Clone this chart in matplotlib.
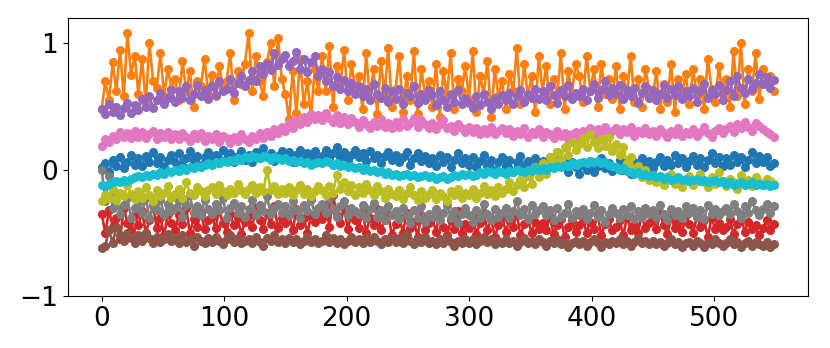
import numpy as np
import matplotlib
matplotlib.use("Agg")
import matplotlib.pyplot as plt

step = 3
x = list(range(0, 550, step))

# values in hundredths, one row per 30 x-units
blue = [2, 5, -2, 8, 3, 10, 1, 6, 12, 4,
        9, 3, 11, 6, 14, 5, 10, 2, 8, 12,
        6, 13, 4, 9, 15, 7, 11, 3, 10, 14,
        8, 12, 5, 16, 9, 13, 6, 11, 15, 8,
        12, 6, 14, 9, 17, 10, 13, 7, 11, 15,
        9, 14, 6, 12, 16, 8, 13, 10, 15, 7,
        11, 16, 9, 13, 18, 10, 14, 8, 12, 16,
        10, 13, 7, 15, 9, 12, 5, 11, 14, 8,
        12, 6, 10, 14, 4, 9, 13, 7, 11, 5,
        9, 3, 12, 6, 10, 2, 8, 13, 5, 9,
        4, 10, 2, 7, 12, 3, 8, -1, 6, 10,
        3, 8, -2, 6, 11, 2, 7, 0, 9, 4,
        7, 1, 10, 4, 14, 3, 8, -2, 6, 2,
        -3, 4, 0, 7, -2, 3, 9, 1, 5, -1,
        2, 8, 0, 5, -3, 6, 2, 9, 3, 7,
        1, 6, 10, 3, 8, 4, 12, 5, 9, 2,
        7, 11, 4, 9, 2, 8, 13, 5, 10, 3,
        9, 4, 12, 6, 10, 2, 8, 14, 5, 11,
        6, 10, 3, 5]

orange = [48, 70, 55, 85, 62, 95, 58, 108, 75, 90,
          60, 88, 52, 100, 70, 65, 92, 58, 80, 64,
          72, 55, 86, 62, 78, 50, 70, 66, 88, 60,
          75, 58, 82, 65, 70, 92, 55, 78, 68, 84,
          108, 62, 90, 70, 58, 85, 100, 66, 104, 72,
          60, 40, 78, 45, 88, 52, 70, 42, 80, 62,
          90, 62, 98, 50, 82, 68, 95, 55, 84, 64,
          74, 48, 92, 56, 80, 44, 86, 60, 96, 50,
          64, 90, 46, 74, 55, 94, 44, 80, 60, 70,
          50, 84, 42, 78, 58, 92, 48, 72, 62, 82,
          56, 94, 46, 74, 60, 86, 42, 80, 58, 70,
          48, 76, 62, 96, 52, 84, 58, 74, 46, 90,
          62, 82, 52, 72, 58, 92, 48, 78, 60, 84,
          74, 54, 90, 62, 80, 50, 84, 60, 72, 56,
          82, 48, 74, 60, 90, 54, 72, 50, 80, 64,
          58, 78, 48, 68, 54, 84, 46, 72, 60, 76,
          52, 80, 58, 72, 48, 88, 64, 54, 82, 60,
          72, 50, 94, 58, 100, 52, 80, 62, 92, 56,
          80, 68, 74, 62]

red = [-35, -50, -32, -45, -38, -55, -30, -42, -48, -36,
       -44, -33, -50, -40, -28, -46, -38, -52, -35, -42,
       -48, -36, -43, -30, -50, -39, -45, -34, -47, -40,
       -37, -46, -32, -42, -49, -35, -44, -38, -51, -41,
       -36, -45, -30, -40, -47, -34, -43, -29, -46, -38,
       -42, -35, -48, -31, -44, -38, -50, -36, -41, -33,
       -39, -28, -45, -20, -36, -42, -30, -47, -34, -40,
       -46, -33, -50, -38, -44, -31, -48, -40, -35, -52,
       -43, -37, -50, -34, -46, -41, -53, -36, -48, -42,
       -38, -49, -35, -45, -52, -40, -47, -33, -50, -43,
       -46, -36, -51, -42, -34, -48, -39, -53, -44, -37,
       -49, -40, -45, -35, -52, -43, -38, -50, -41, -47,
       -42, -48, -37, -51, -44, -39, -53, -45, -40, -49,
       -44, -38, -50, -41, -47, -35, -52, -43, -39, -48,
       -45, -40, -52, -37, -48, -43, -50, -36, -46, -42,
       -39, -47, -34, -44, -51, -38, -46, -41, -49, -36,
       -43, -50, -37, -45, -40, -53, -38, -47, -42, -48,
       -45, -39, -51, -43, -36, -49, -41, -47, -44, -52,
       -46, -40, -48, -43]

purple = [48, 44, 52, 46, 50, 43, 49, 53, 45, 51,
          47, 56, 50, 58, 49, 55, 61, 52, 57, 63,
          54, 62, 57, 66, 55, 60, 67, 58, 63, 56,
          66, 59, 70, 62, 64, 72, 61, 69, 74, 66,
          71, 78, 70, 82, 76, 84, 79, 92, 83, 88,
          91, 82, 86, 93, 80, 88, 77, 85, 90, 74,
          80, 70, 77, 66, 73, 64, 71, 62, 69, 60,
          66, 58, 64, 55, 68, 60, 57, 65, 54, 62,
          56, 64, 52, 61, 58, 66, 53, 60, 55, 63,
          59, 51, 62, 55, 50, 60, 54, 63, 52, 57,
          53, 49, 58, 51, 60, 54, 48, 57, 52, 59,
          55, 61, 52, 58, 63, 54, 60, 57, 64, 56,
          62, 55, 66, 59, 53, 63, 58, 67, 56, 61,
          58, 64, 55, 62, 68, 57, 63, 70, 59, 65,
          60, 67, 56, 63, 58, 65, 53, 61, 66, 57,
          63, 55, 60, 67, 57, 64, 59, 66, 56, 62,
          58, 65, 54, 62, 68, 57, 63, 60, 67, 55,
          63, 70, 58, 74, 65, 61, 72, 64, 69, 76,
          68, 73, 65, 71]

brown = [-62, -60, -48, -58, -45, -52, -56, -50, -54, -58,
         -52, -56, -50, -54, -58, -53, -57, -55, -51, -56,
         -54, -58, -52, -57, -55, -60, -53, -56, -58, -54,
         -57, -53, -56, -59, -55, -52, -57, -54, -58, -56,
         -55, -58, -53, -57, -60, -54, -56, -52, -57, -55,
         -58, -54, -57, -55, -59, -56, -53, -57, -55, -58,
         -56, -52, -57, -54, -58, -55, -59, -56, -53, -57,
         -55, -58, -54, -57, -53, -56, -59, -55, -57, -54,
         -57, -54, -58, -52, -56, -59, -55, -57, -53, -58,
         -56, -59, -55, -58, -54, -57, -60, -56, -58, -55,
         -58, -55, -59, -56, -53, -57, -55, -59, -56, -58,
         -55, -58, -56, -60, -57, -54, -58, -56, -59, -55,
         -57, -60, -56, -58, -55, -59, -57, -61, -58, -56,
         -59, -56, -60, -57, -55, -58, -61, -57, -59, -56,
         -58, -55, -59, -56, -60, -57, -54, -58, -56, -59,
         -56, -59, -57, -60, -58, -55, -59, -57, -61, -58,
         -57, -60, -56, -58, -61, -57, -59, -55, -58, -60,
         -58, -55, -59, -57, -61, -58, -56, -60, -57, -59,
         -60, -57, -61, -59]

pink = [19, 24, 22, 27, 24, 30, 26, 29, 25, 31,
        26, 30, 25, 28, 31, 24, 29, 26, 30, 24,
        28, 24, 29, 26, 23, 28, 25, 29, 23, 27,
        24, 28, 22, 27, 25, 21, 26, 23, 28, 24,
        22, 27, 24, 29, 25, 30, 27, 32, 29, 34,
        31, 37, 33, 39, 36, 42, 38, 44, 40, 43,
        39, 45, 41, 38, 43, 37, 42, 36, 41, 38,
        34, 39, 36, 33, 38, 35, 40, 34, 37, 33,
        38, 34, 40, 35, 37, 41, 34, 39, 36, 33,
        37, 32, 36, 39, 33, 35, 31, 36, 33, 30,
        34, 30, 33, 28, 32, 29, 34, 28, 31, 33,
        29, 32, 27, 31, 28, 33, 26, 30, 28, 32,
        26, 30, 28, 25, 31, 27, 29, 24, 28, 30,
        26, 31, 28, 33, 27, 32, 30, 34, 29, 31,
        33, 28, 32, 30, 34, 27, 31, 29, 33, 28,
        31, 27, 32, 29, 26, 31, 28, 33, 27, 30,
        28, 32, 27, 30, 34, 29, 26, 31, 33, 29,
        32, 35, 30, 36, 33, 38, 34, 31, 37, 35,
        32, 30, 28, 26]

gray = [0, -25, -5, -30, -20, -35, -28, -22, -38, -30,
        -26, -34, -22, -38, -29, -32, -24, -36, -27, -33,
        -30, -25, -37, -28, -20, -34, -29, -36, -24, -31,
        -35, -27, -32, -22, -38, -30, -26, -34, -29, -37,
        -31, -24, -36, -28, -33, -21, -35, -30, -27, -34,
        -29, -36, -25, -32, -38, -28, -33, -24, -35, -30,
        -27, -34, -22, -31, -37, -29, -25, -36, -30, -33,
        -35, -28, -38, -31, -26, -37, -32, -40, -29, -36,
        -33, -39, -30, -36, -42, -32, -38, -29, -41, -35,
        -37, -31, -40, -34, -28, -38, -33, -42, -35, -30,
        -36, -41, -32, -38, -27, -35, -40, -31, -37, -34,
        -30, -38, -33, -25, -36, -31, -39, -28, -35, -32,
        -29, -36, -32, -40, -30, -37, -34, -27, -38, -33,
        -36, -31, -39, -34, -28, -37, -32, -41, -35, -30,
        -34, -38, -31, -36, -29, -39, -33, -37, -30, -35,
        -32, -37, -28, -35, -40, -31, -36, -33, -38, -29,
        -34, -30, -37, -32, -39, -28, -35, -31, -36, -33,
        -30, -35, -27, -33, -38, -29, -34, -25, -32, -36,
        -31, -27, -34, -29]

olive = [-25, -20, -22, -15, -24, -18, -21, -12, -19, -23,
         -17, -22, -14, -20, -25, -16, -21, -18, -13, -22,
         -19, -15, -22, -10, -18, -20, -14, -17, -21, -16,
         -14, -19, -12, -17, -20, -15, -18, -11, -16, -19,
         -15, -12, -18, -14, -17, 0, -16, -13, -19, -15,
         -18, -14, -20, -16, -12, -19, -15, -21, -17, -13,
         -16, -20, -13, -18, -4, -15, -10, -17, -12, -20,
         -14, -18, -11, -16, -20, -13, -17, -22, -15, -19,
         -21, -16, -23, -18, -14, -20, -24, -17, -22, -19,
         -16, -23, -18, -21, -25, -17, -20, -15, -22, -18,
         -20, -15, -22, -18, -13, -19, -16, -21, -14, -18,
         -15, -10, -17, -12, -8, -14, -5, -11, 2, -6,
         5, -3, 10, 6, 14, 8, 18, 12, 22, 16,
         20, 25, 18, 28, 22, 17, 24, 19, 26, 15,
         20, 12, 18, 5, 10, -2, 3, -6, 0, -8,
         -4, -10, -6, -12, -7, -3, -11, -8, -14, -9,
         -5, -12, -8, -3, -10, -14, -6, -11, -2, -9,
         -13, -7, -10, -15, -4, -11, -8, -13, -6, -10,
         -12, -7, -9, -11]

cyan = [-12, -13, -11, -10, -9, -10, -8, -9, -7, -6,
        -5, -6, -4, -5, -3, -4, -2, -3, -1, -2,
        0, -1, 1, 0, 2, 1, 3, 2, 4, 5,
        4, 6, 5, 7, 6, 8, 7, 9, 8, 10,
        9, 11, 10, 9, 11, 10, 8, 10, 9, 8,
        9, 7, 8, 6, 7, 5, 6, 4, 5, 6,
        5, 7, 6, 4, 5, 3, 4, 2, 3, 1,
        2, 0, 1, -1, 0, -2, -1, -3, -2, -4,
        -3, -5, -4, -3, -5, -4, -6, -5, -4, -6,
        -5, -7, -6, -5, -7, -6, -4, -5, -3, -4,
        -3, -5, -4, -2, -3, -1, -2, -3, -1, -2,
        -3, -1, -2, 0, -1, -2, 0, -1, 1, 0,
        1, 0, 2, 1, 3, 2, 4, 3, 5, 4,
        5, 6, 5, 7, 6, 7, 5, 6, 4, 3,
        2, 0, 1, -1, -2, -3, -2, -4, -3, -5,
        -4, -6, -5, -7, -6, -8, -7, -6, -8, -7,
        -9, -8, -7, -9, -8, -10, -9, -8, -10, -9,
        -11, -10, -12, -11, -10, -12, -11, -10, -12, -11,
        -12, -11, -13, -12]

series = [
    (blue, "#1f77b4"),
    (orange, "#ff7f0e"),
    (red, "#d62728"),
    (purple, "#9467bd"),
    (brown, "#8c564b"),
    (pink, "#e377c2"),
    (gray, "#7f7f7f"),
    (olive, "#bcbd22"),
    (cyan, "#17becf"),
]

fig = plt.figure(figsize=(8.3, 3.48), dpi=100)
ax = fig.add_axes([0.082, 0.149, 0.891, 0.799])
for vals, col in series:
    y = np.array(vals) / 100.0
    ax.plot(x, y, "-o", color=col, markersize=5.5, linewidth=1.9)

ax.set_xlim(-27.45, 576.45)
ax.set_ylim(-1.0, 1.2)
ax.set_yticks([-1, 0, 1])
ax.set_xticks([0, 100, 200, 300, 400, 500])
ax.tick_params(labelsize=19)
fig.savefig("out.png", dpi=100)
